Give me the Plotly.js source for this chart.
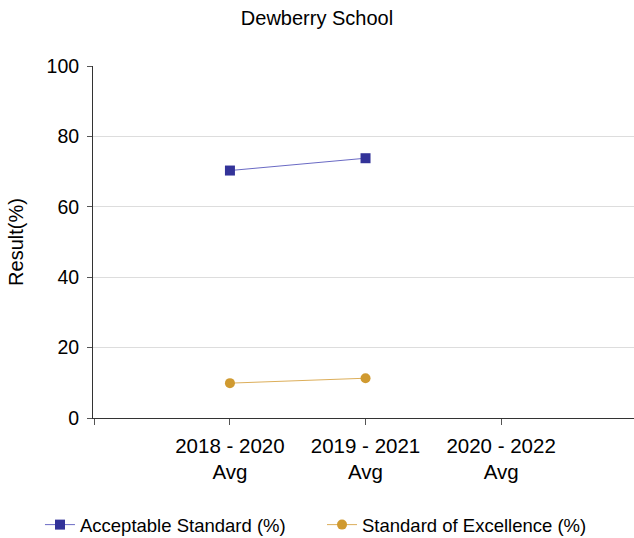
<!DOCTYPE html>
<html>
<head>
<meta charset="utf-8">
<script src="https://cdn.plot.ly/plotly-3.0.1.min.js"></script>
<style>html,body{margin:0;padding:0;background:#fff;}#chart{width:634px;height:538px;}</style>
</head>
<body>
<div id="chart"></div>
<script>
const categories = ["2018 - 2020<br>Avg", "2019 - 2021<br>Avg", "2020 - 2022<br>Avg"];
const acceptable = [70.3, 73.8, null];
const excellence = [9.9, 11.3, null];
const seriesNames = ["Acceptable Standard (%)", "Standard of Excellence (%)"];

const idx = categories.map((c, i) => i);
const font = "Arial, 'Liberation Sans', sans-serif";

const traces = [
  {
    x: idx, y: acceptable, name: seriesNames[0], type: "scatter", mode: "lines+markers",
    line: {color: "#6a6ac4", width: 1},
    marker: {symbol: "square", size: 10, color: "#333399"},
    legend: "legend"
  },
  {
    x: idx, y: excellence, name: seriesNames[1], type: "scatter", mode: "lines+markers",
    line: {color: "#dcae5a", width: 1},
    marker: {symbol: "circle", size: 10, color: "#d09a30"},
    legend: "legend2"
  }
];

const legendBase = {
  orientation: "h", yref: "container", y: 0.024, yanchor: "middle", xanchor: "left",
  font: {size: 18.5, color: "#000"}, bgcolor: "rgba(0,0,0,0)"
};

const layout = {
  width: 634, height: 538,
  margin: {l: 93, r: 0, t: 66, b: 120},
  paper_bgcolor: "#fff", plot_bgcolor: "#fff",
  font: {family: font, size: 20, color: "#000"},
  title: {text: "Dewberry School", x: 0.5, xanchor: "center", y: 0.9665, yanchor: "middle", font: {size: 20, color: "#000"}},
  xaxis: {
    type: "linear", range: [-1.01, 2.98],
    tickmode: "array", tickvals: [-1].concat(idx), ticktext: [""].concat(categories),
    ticks: "outside", ticklen: 6, tickcolor: "#555", showgrid: false, zeroline: false,
    showline: true, linecolor: "#333", linewidth: 1,
    tickfont: {size: 20.5}, ticklabelstandoff: 3
  },
  yaxis: {
    range: [0, 100], dtick: 20, ticks: "outside", ticklen: 5, tickcolor: "#555",
    showgrid: true, gridcolor: "#dddddd", zeroline: false,
    showline: true, linecolor: "#333", linewidth: 1,
    title: {text: "Result(%)", font: {size: 20}, standoff: 17},
    tickfont: {size: 19.5}, ticklabelstandoff: 4
  },
  legend: Object.assign({}, legendBase, {x: -0.098}),
  legend2: Object.assign({}, legendBase, {x: 0.4233}),
  showlegend: true
};

Plotly.newPlot("chart", traces, layout, {staticPlot: true, displayModeBar: false});
</script>
</body>
</html>
